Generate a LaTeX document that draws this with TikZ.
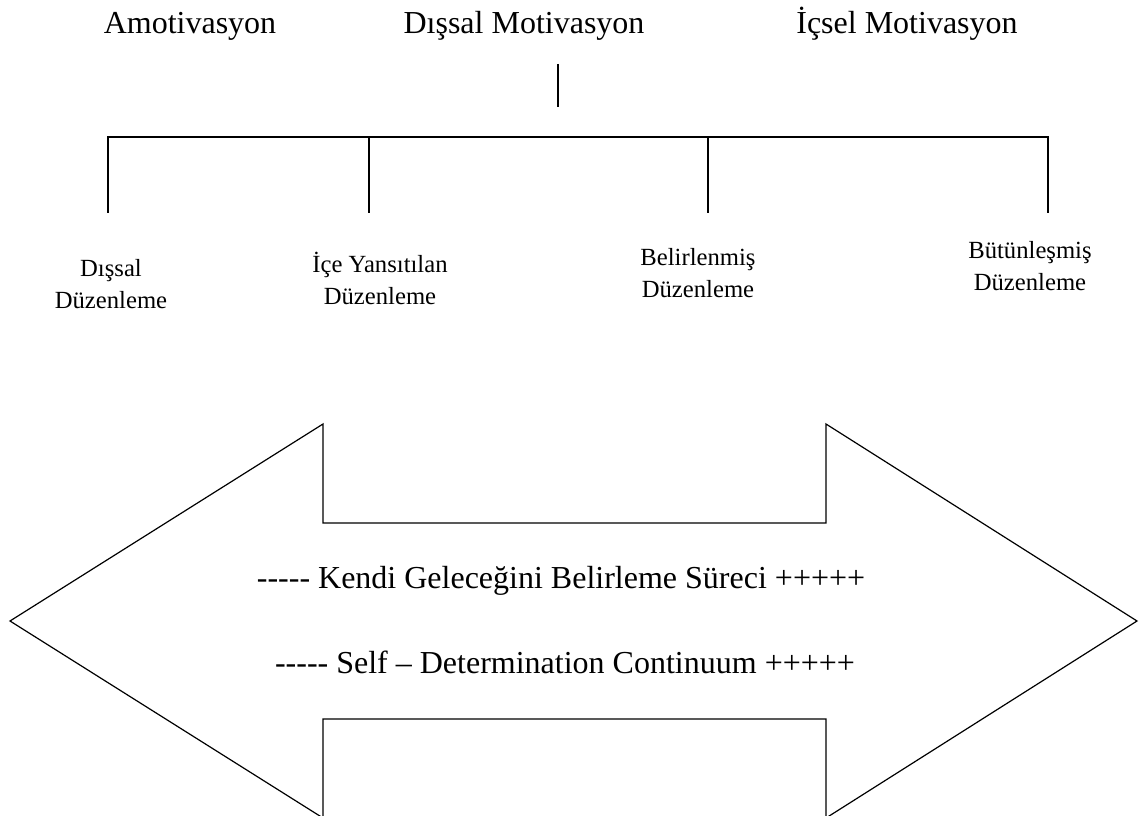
\documentclass[tikz,border=0pt]{standalone}
\usepackage{fontspec}
\setmainfont{Liberation Serif}
\newcommand{\hy}{\mbox{-}}
\begin{document}
\begin{tikzpicture}[x=0.75pt,y=-0.75pt,line width=0.9pt,
  toplabel/.style={font=\fontsize{24}{28}\selectfont,anchor=base,inner sep=0pt},
  sublabel/.style={font=\fontsize{18.5}{24}\selectfont,align=center,anchor=base,inner sep=0pt},
  treeline/.style={draw=black,line width=0.9pt},
  arrowshape/.style={draw=black,line width=0.9pt,line join=miter}]
\useasboundingbox (0,0) rectangle (1139,816);

% top labels
\node[toplabel] (amot) at (190,34) {Amotivasyon};
\node[toplabel] (dis) at (524,34) {Dışsal Motivasyon};
\node[toplabel] (ic) at (907,34) {İçsel Motivasyon};

% tree
\coordinate (stemtop) at (558,64);
\coordinate (stembot) at (558,107);
\coordinate (h1) at (108,137);
\coordinate (h2) at (369,137);
\coordinate (h3) at (708,137);
\coordinate (h4) at (1048,137);
\coordinate (d1) at (108,213);
\coordinate (d2) at (369,213);
\coordinate (d3) at (708,213);
\coordinate (d4) at (1048,213);
\draw[treeline] (stemtop) -- (stembot);
\draw[treeline] (d1) -- (h1) -- (h4) -- (d4);
\draw[treeline] (h2) -- (d2);
\draw[treeline] (h3) -- (d3);

% sub labels (anchor = baseline of last line)
\node[sublabel] (s1) at (111,309) {Dışsal\\Düzenleme};
\node[sublabel] (s2) at (380,305) {İçe Yansıtılan\\Düzenleme};
\node[sublabel] (s3) at (698,298) {Belirlenmiş\\Düzenleme};
\node[sublabel] (s4) at (1030,291) {Bütünleşmiş\\Düzenleme};

% double arrow
\draw[arrowshape] (10,621) -- (323,424) -- (323,523) -- (826,523) -- (826,424)
  -- (1137,621) -- (826,818) -- (826,719) -- (323,719) -- (323,818) -- cycle;

\node[toplabel] (t1) at (561,588) {\hy\hy\hy\hy\hy{} Kendi Geleceğini Belirleme Süreci +++++};
\node[toplabel] (t2) at (565,673) {\hy\hy\hy\hy\hy{} Self – Determination Continuum +++++};
\end{tikzpicture}
\end{document}
